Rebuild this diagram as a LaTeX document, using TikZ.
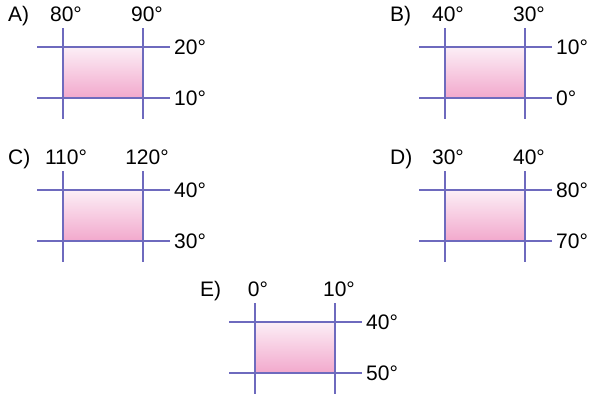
\documentclass[tikz,border=0pt]{standalone}
\usepackage{fontspec}
\setmainfont{Liberation Sans}
\usepackage{xcolor}
\usepackage{tikz}
\definecolor{grid-blue}{RGB}{110, 106, 190}
\definecolor{cell-top}{RGB}{252, 238, 246}
\definecolor{cell-bot}{RGB}{242, 168, 204}

\begin{document}
\begin{tikzpicture}[x=1pt, y=-1pt,
    cell/.style={rectangle, inner sep=0pt, anchor=north west,
                 minimum width=80pt, minimum height=51pt,
                 top color=cell-top, bottom color=cell-bot},
    gridline/.style={line width=2.6pt, color=grid-blue},
    deg/.style={font=\fontsize{21}{24}\selectfont, inner sep=0pt}
  ]
    \useasboundingbox (0,0) rectangle (592,400);

    \foreach \px/\py/\tag/\lona/\lonb/\lata/\latb in
      {63/47/A/80/90/20/10, 445/47/B/40/30/10/0, 63/190/C/110/120/40/30,
       445/190/D/30/40/80/70, 255/322/E/0/10/40/50}{
      \begin{scope}[shift={(\px,\py)}]
        \node[cell] (c\tag) at (0,0) {};
        \draw[gridline] (0,-19) -- (0,72);
        \draw[gridline] (80,-19) -- (80,72);
        \draw[gridline] (-26,0) -- (107,0);
        \draw[gridline] (-26,51) -- (107,51);

        \node[deg, anchor=west] (t\tag) at (-55,-31) {\tag)};
        \node[deg] (w\tag) at (3,-33)  {\lona°};
        \node[deg] (e\tag) at (84,-33) {\lonb°};
        \node[deg, anchor=west] (n\tag) at (111,0)  {\lata°};
        \node[deg, anchor=west] (s\tag) at (111,51) {\latb°};
      \end{scope}
    }
  \end{tikzpicture}
\end{document}
